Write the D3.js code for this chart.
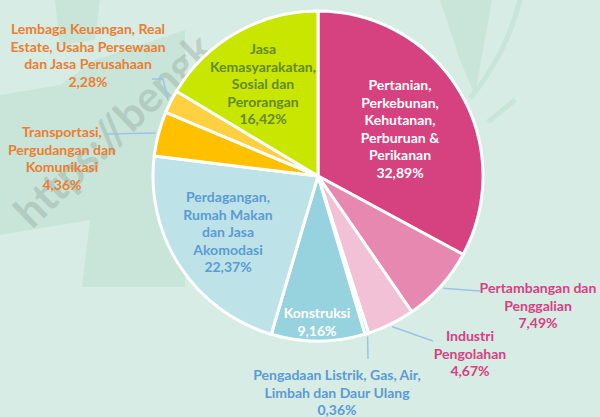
<!DOCTYPE html>
<html>
<head>
<meta charset="utf-8">
<script src="https://cdn.jsdelivr.net/npm/d3@7"></script>
<style>
  html, body { margin: 0; padding: 0; background: #d7ece5; }
  svg { display: block; }
  text { font-family: Lato, "Open Sans", sans-serif; font-weight: 700; }
</style>
</head>
<body>
<div id="chart"></div>
<script>
// data, clockwise from 12 o'clock
const categories = [
  'Pertanian, Perkebunan, Kehutanan, Perburuan & Perikanan',
  'Pertambangan dan Penggalian',
  'Industri Pengolahan',
  'Pengadaan Listrik, Gas, Air, Limbah dan Daur Ulang',
  'Konstruksi',
  'Perdagangan, Rumah Makan dan Jasa Akomodasi',
  'Transportasi, Pergudangan dan Komunikasi',
  'Lembaga Keuangan, Real Estate, Usaha Persewaan dan Jasa Perusahaan',
  'Jasa Kemasyarakatan, Sosial dan Perorangan'
];
const values = [32.89, 7.49, 4.67, 0.36, 9.16, 22.37, 4.36, 2.28, 16.42];
const percentLabels = ['32,89%', '7,49%', '4,67%', '0,36%', '9,16%', '22,37%', '4,36%', '2,28%', '16,42%'];
const labelLines = [
  ['Pertanian,', 'Perkebunan,', 'Kehutanan,', 'Perburuan &', 'Perikanan'],
  ['Pertambangan dan', 'Penggalian'],
  ['Industri', 'Pengolahan'],
  ['Pengadaan Listrik, Gas, Air,', 'Limbah dan Daur Ulang'],
  ['Konstruksi'],
  ['Perdagangan,', 'Rumah Makan', 'dan Jasa', 'Akomodasi'],
  ['Transportasi,', 'Pergudangan dan', 'Komunikasi'],
  ['Lembaga Keuangan, Real', 'Estate, Usaha Persewaan', 'dan Jasa Perusahaan'],
  ['Jasa', 'Kemasyarakatan,', 'Sosial dan', 'Perorangan']
];
const sliceColors = ['#d5427f', '#e688b0', '#f3c1d6', '#a9d8e0', '#97d3de', '#bde3e8', '#ffc000', '#ffd040', '#c8e600'];
const textColors = ['#ffffff', '#d9407f', '#d9407f', '#5b9bd5', '#ffffff', '#5b9bd5', '#ed7d31', '#ed7d31', '#638a2b'];

// label layout: centre x, first line y, leader end points (none = inside label)
const labelPos = [
  { x: 400, y: 85 },
  { x: 538, y: 288, leader: [[480, 291]] },
  { x: 470, y: 336, leader: [[433, 341]] },
  { x: 337, y: 375, leader: [[368, 359]] },
  { x: 317, y: 313 },
  { x: 228, y: 197 },
  { x: 62, y: 132, leader: [[107, 134]] },
  { x: 88, y: 29, leader: [[163, 79], [152, 79]] },
  { x: 263, y: 49 }
];

const W = 600, H = 417;
const cx = 318, cy = 176, R = 165;
const lineH = 17.6;

const svg = d3.select('#chart').append('svg')
  .attr('width', W)
  .attr('height', H);

// background decoration
const bg = svg.append('g');
bg.append('rect').attr('width', W).attr('height', H).attr('fill', '#d7ece5');
bg.append('path')
  .attr('d', 'M0,95 L60,85 L95,60 L185,30 L185,287 L82,287 L90,220 L0,235 Z')
  .attr('fill', '#c9e5d9');
bg.append('path')
  .attr('d', 'M55,0 L100,0 L95,40 L60,45 Z')
  .attr('fill', '#c9e5d9');
bg.append('path')
  .attr('d', 'M440,0 L492,0 L475,95 L460,60 Z')
  .attr('fill', '#c9e5d9');
bg.append('path')
  .attr('d', 'M520,0 C510,40 490,75 470,98')
  .attr('fill', 'none').attr('stroke', '#c9e5d9').attr('stroke-width', 5);
bg.append('path')
  .attr('d', 'M515,100 L488,122')
  .attr('fill', 'none').attr('stroke', '#c9e5d9').attr('stroke-width', 5);

// watermark
svg.append('text')
  .attr('transform', 'translate(32,230) rotate(-44)')
  .attr('font-size', 43)
  .attr('fill', '#8fa39a')
  .attr('fill-opacity', 0.4)
  .text('https://bengk');

const pie = d3.pie().sort(null).value(d => d);
const arcs = pie(values);

const arc = d3.arc().innerRadius(0).outerRadius(R);
const edge = d3.arc().innerRadius(R + 3).outerRadius(R + 3);

const chart = svg.append('g').attr('transform', `translate(${cx},${cy})`);

chart.selectAll('.slice')
  .data(arcs)
  .enter()
  .append('path')
  .attr('class', 'slice')
  .attr('d', arc)
  .attr('fill', (d, i) => sliceColors[i])
  .attr('stroke', '#ffffff')
  .attr('stroke-width', 3)
  .attr('stroke-linejoin', 'round');

// leader lines
arcs.forEach((d, i) => {
  const p = labelPos[i];
  if (!p.leader) return;
  const [sx, sy] = edge.centroid(d);
  const pts = [[sx + cx, sy + cy]].concat(p.leader);
  svg.append('path')
    .attr('d', d3.line()(pts))
    .attr('fill', 'none')
    .attr('stroke', '#9dc3e6')
    .attr('stroke-width', 1.5);
});

// labels
const labels = svg.append('g');
arcs.forEach((d, i) => {
  const p = labelPos[i];
  const lines = labelLines[i].concat([percentLabels[i]]);
  const t = labels.append('text')
    .attr('text-anchor', 'middle')
    .attr('font-size', 14)
    .attr('fill', textColors[i]);
  lines.forEach((s, k) => {
    t.append('tspan')
      .attr('x', p.x)
      .attr('y', p.y + k * lineH)
      .attr('dy', '0.35em')
      .text(s);
  });
});
</script>
</body>
</html>
